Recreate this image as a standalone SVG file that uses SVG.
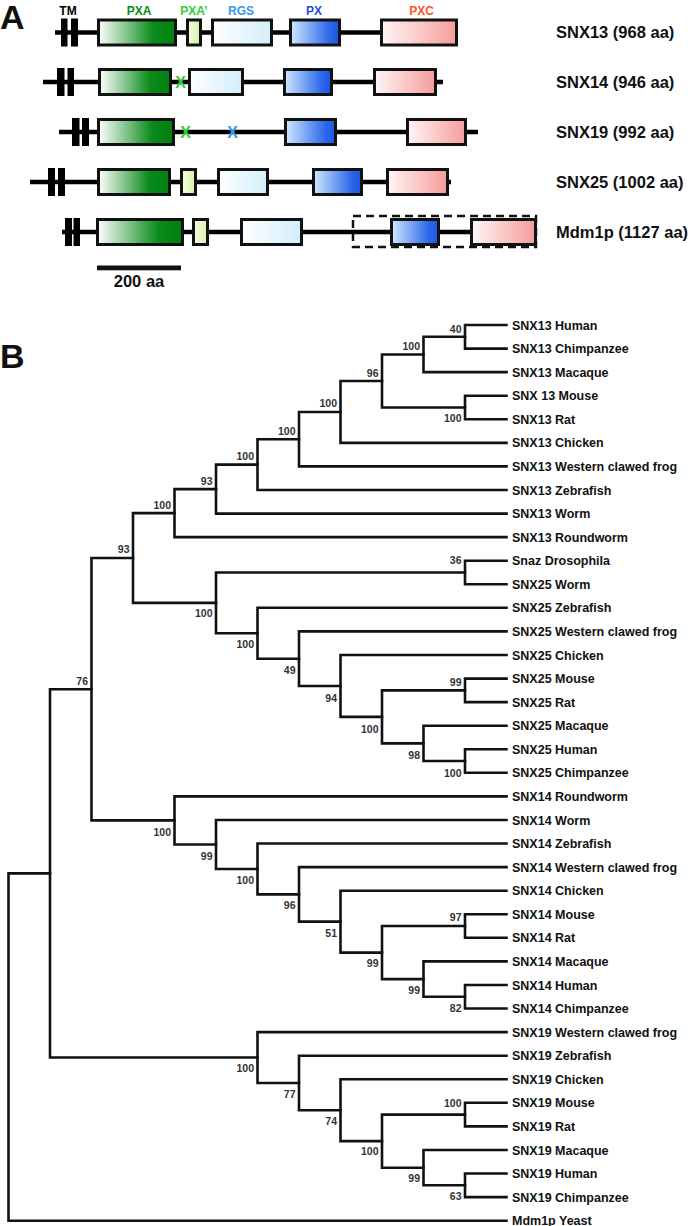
<svg xmlns="http://www.w3.org/2000/svg" width="693" height="1226" viewBox="0 0 693 1226">
<defs>
<linearGradient id="gPXA" x1="0" y1="0" x2="1" y2="0"><stop offset="0" stop-color="#ffffff"/><stop offset="0.72" stop-color="#0a8a1a"/><stop offset="1" stop-color="#00800f"/></linearGradient>
<linearGradient id="gPXA2" x1="0" y1="0" x2="1" y2="0"><stop offset="0" stop-color="#f6fde4"/><stop offset="1" stop-color="#d4efa6"/></linearGradient>
<linearGradient id="gRGS" x1="0" y1="0" x2="1" y2="0"><stop offset="0" stop-color="#ffffff"/><stop offset="1" stop-color="#d2eefb"/></linearGradient>
<linearGradient id="gPX" x1="0" y1="0" x2="1" y2="0"><stop offset="0" stop-color="#d2e8ff"/><stop offset="0.8" stop-color="#2a68ea"/><stop offset="1" stop-color="#1a56e0"/></linearGradient>
<linearGradient id="gPXC" x1="0" y1="0" x2="1" y2="0"><stop offset="0" stop-color="#fff6f6"/><stop offset="1" stop-color="#f59c9a"/></linearGradient>
</defs>
<style>
.bb{stroke:#000;stroke-width:4.5;fill:none}
.tm{fill:#000}
.box{stroke:#111;stroke-width:3}
.pxa{fill:url(#gPXA)}
.pxa2{fill:url(#gPXA2)}
.rgs{fill:url(#gRGS)}
.px{fill:url(#gPX)}
.pxc{fill:url(#gPXC)}
.dom{font-family:"Liberation Sans",Arial,sans-serif;font-weight:bold;font-size:12px;text-anchor:middle}
.name{font-family:"Liberation Sans",Arial,sans-serif;font-weight:bold;font-size:16.5px;fill:#111}
.big{font-family:"Liberation Sans",Arial,sans-serif;font-weight:bold;font-size:34px;fill:#111}
.xm{font-family:"Liberation Sans",Arial,sans-serif;font-weight:bold;font-size:16px;text-anchor:middle}
.br{fill:none;stroke:#111;stroke-width:2.6;stroke-linecap:square}
.leaf{font-family:"Liberation Sans",Arial,sans-serif;font-weight:bold;font-size:12.5px;fill:#111}
.bs{font-family:"Liberation Sans",Arial,sans-serif;font-weight:bold;font-size:10.5px;fill:#333;text-anchor:end}
</style>

<text class="big" x="0" y="29">A</text>
<g id="domain-labels">
<text class="dom" x="68" y="15" fill="#000">TM</text>
<text class="dom" x="139" y="15" fill="#0a8a1a">PXA</text>
<text class="dom" x="194" y="15" fill="#33cc33">PXA’</text>
<text class="dom" x="241" y="15" fill="#3399ee">RGS</text>
<text class="dom" x="314" y="15" fill="#1a4fe0">PX</text>
<text class="dom" x="421.5" y="15" fill="#ff5522">PXC</text>
</g>

<g id="snx13-protein">
<line class="bb" x1="55" y1="32.5" x2="458" y2="32.5"/>
<rect class="tm" x="61" y="18.5" width="6.5" height="28"/>
<rect class="tm" x="71" y="18.5" width="7" height="28"/>
<rect class="box pxa" x="98.5" y="20" width="77" height="25"/>
<rect class="box pxa2" x="187.5" y="20" width="13" height="25"/>
<rect class="box rgs" x="212.5" y="20" width="59" height="25"/>
<rect class="box px" x="290.5" y="20" width="49" height="25"/>
<rect class="box pxc" x="381.5" y="20" width="75" height="25"/>
<text class="name" x="556" y="38">SNX13 (968 aa)</text>
</g>

<g id="snx14-protein">
<line class="bb" x1="43" y1="82" x2="443" y2="82"/>
<rect class="tm" x="57" y="68" width="7.5" height="28"/>
<rect class="tm" x="67.5" y="68" width="6.5" height="28"/>
<rect class="box pxa" x="99.5" y="69.5" width="71" height="25"/>
<text class="xm" x="180.5" y="88" fill="#33cc33">X</text>
<rect class="box rgs" x="189.5" y="69.5" width="53" height="25"/>
<rect class="box px" x="284.5" y="69.5" width="47" height="25"/>
<rect class="box pxc" x="374.5" y="69.5" width="61" height="25"/>
<text class="name" x="556" y="88">SNX14 (946 aa)</text>
</g>

<g id="snx19-protein">
<line class="bb" x1="59" y1="132" x2="478" y2="132"/>
<rect class="tm" x="72" y="118" width="7.5" height="28"/>
<rect class="tm" x="82" y="118" width="7" height="28"/>
<rect class="box pxa" x="98.5" y="119.5" width="75" height="25"/>
<text class="xm" x="185.5" y="138" fill="#33cc33">X</text>
<text class="xm" x="232.5" y="138" fill="#3399ee">X</text>
<rect class="box px" x="285.5" y="119.5" width="50" height="25"/>
<rect class="box pxc" x="407.5" y="119.5" width="58" height="25"/>
<text class="name" x="556" y="138">SNX19 (992 aa)</text>
</g>

<g id="snx25-protein">
<line class="bb" x1="30" y1="182" x2="451" y2="182"/>
<rect class="tm" x="48" y="168" width="7" height="28"/>
<rect class="tm" x="58" y="168" width="7" height="28"/>
<rect class="box pxa" x="98.5" y="169.5" width="71" height="25"/>
<rect class="box pxa2" x="181.5" y="169.5" width="14" height="25"/>
<rect class="box rgs" x="218.5" y="169.5" width="49" height="25"/>
<rect class="box px" x="313.5" y="169.5" width="48" height="25"/>
<rect class="box pxc" x="387.5" y="169.5" width="60" height="25"/>
<text class="name" x="556" y="188">SNX25 (1002 aa)</text>
</g>

<g id="mdm1p-protein">
<line class="bb" x1="62" y1="232" x2="537" y2="232"/>
<rect class="tm" x="65" y="218" width="7" height="28"/>
<rect class="tm" x="73.5" y="218" width="6.5" height="28"/>
<rect class="box pxa" x="97.5" y="219.5" width="85" height="25"/>
<rect class="box pxa2" x="193.5" y="219.5" width="14" height="25"/>
<rect class="box rgs" x="241.5" y="219.5" width="60" height="25"/>
<rect x="353" y="216" width="183" height="31" fill="none" stroke="#111" stroke-width="2.5" stroke-dasharray="8 5"/>
<rect class="box px" x="391.5" y="219.5" width="47" height="25"/>
<rect class="box pxc" x="471.5" y="219.5" width="64" height="25"/>
<text class="name" x="556" y="238">Mdm1p (1127 aa)</text>
</g>

<g id="scale-bar">
<rect x="97" y="265.5" width="84" height="4.8" fill="#111"/>
<text class="name" x="139" y="287" text-anchor="middle">200 aa</text>
</g>

<text class="big" x="0" y="368">B</text>

<g id="connectors">
<path class="br" d="M50,873.4 H8.5 V1220.7 H506.5"/>
<path class="br" d="M91.5,689.2 H50 V1057.5 H257.5"/>
<path class="br" d="M133,558 H91.5 V820.4 H174.5"/>
<path class="br" d="M174.5,513.1 H133 V602.9 H216"/>
<path class="br" d="M216,489.1 H174.5 V537.1 H506.5"/>
<path class="br" d="M257.5,464.6 H216 V513.6 H506.5"/>
<path class="br" d="M299,439.2 H257.5 V490 H506.5"/>
<path class="br" d="M340.5,412 H299 V466.4 H506.5"/>
<path class="br" d="M382,381 H340.5 V442.9 H506.5"/>
<path class="br" d="M423.5,354.5 H382 V407.5 H465"/>
<path class="br" d="M465,336.8 H423.5 V372.1 H506.5"/>
<path class="br" d="M506.5,325 H465 V348.6 H506.5"/>
<path class="br" d="M506.5,395.7 H465 V419.3 H506.5"/>
<path class="br" d="M465,572.5 H216 V633.3 H257.5"/>
<path class="br" d="M506.5,560.7 H465 V584.3 H506.5"/>
<path class="br" d="M506.5,607.8 H257.5 V658.7 H299"/>
<path class="br" d="M506.5,631.4 H299 V686 H340.5"/>
<path class="br" d="M506.5,655 H340.5 V716.9 H382"/>
<path class="br" d="M465,690.4 H382 V743.4 H423.5"/>
<path class="br" d="M506.5,678.6 H465 V702.1 H506.5"/>
<path class="br" d="M506.5,725.7 H423.5 V761 H465"/>
<path class="br" d="M506.5,749.3 H465 V772.8 H506.5"/>
<path class="br" d="M506.5,796.4 H174.5 V844.5 H216"/>
<path class="br" d="M506.5,820 H216 V869 H257.5"/>
<path class="br" d="M506.5,843.5 H257.5 V894.4 H299"/>
<path class="br" d="M506.5,867.1 H299 V921.6 H340.5"/>
<path class="br" d="M506.5,890.7 H340.5 V952.6 H382"/>
<path class="br" d="M465,926 H382 V979.1 H423.5"/>
<path class="br" d="M506.5,914.3 H465 V937.8 H506.5"/>
<path class="br" d="M506.5,961.4 H423.5 V996.8 H465"/>
<path class="br" d="M506.5,985 H465 V1008.5 H506.5"/>
<path class="br" d="M506.5,1032.1 H257.5 V1083 H299"/>
<path class="br" d="M506.5,1055.7 H299 V1110.2 H340.5"/>
<path class="br" d="M506.5,1079.2 H340.5 V1141.1 H382"/>
<path class="br" d="M465,1114.6 H382 V1167.7 H423.5"/>
<path class="br" d="M506.5,1102.8 H465 V1126.4 H506.5"/>
<path class="br" d="M506.5,1150 H423.5 V1185.3 H465"/>
<path class="br" d="M506.5,1173.5 H465 V1197.1 H506.5"/>
</g>

<g id="bootstrap-nodes">
<g id="n40"><text class="bs" x="461.5" y="333">40</text></g>
<g id="n100a"><text class="bs" x="420" y="350">100</text></g>
<g id="n96"><text class="bs" x="378.5" y="377">96</text></g>
<g id="n100b"><text class="bs" x="461.5" y="421.7">100</text></g>
<g id="n100c"><text class="bs" x="337" y="407.3">100</text></g>
<g id="n100d"><text class="bs" x="295.5" y="435">100</text></g>
<g id="n100e"><text class="bs" x="254" y="460">100</text></g>
<g id="n93a"><text class="bs" x="212.5" y="485">93</text></g>
<g id="n100f"><text class="bs" x="171" y="509.3">100</text></g>
<g id="n93b"><text class="bs" x="129.5" y="553.3">93</text></g>
<g id="n36"><text class="bs" x="461.5" y="564">36</text></g>
<g id="n100j"><text class="bs" x="212.5" y="617.3">100</text></g>
<g id="n100i"><text class="bs" x="254" y="648.3">100</text></g>
<g id="n49"><text class="bs" x="295.5" y="674">49</text></g>
<g id="n94"><text class="bs" x="337" y="701.7">94</text></g>
<g id="n76"><text class="bs" x="88" y="685">76</text></g>
<g id="n99"><text class="bs" x="461.5" y="686">99</text></g>
<g id="n100h"><text class="bs" x="378.5" y="732.7">100</text></g>
<g id="n98"><text class="bs" x="420" y="759.3">98</text></g>
<g id="n100g"><text class="bs" x="461.5" y="776.7">100</text></g>
<g id="n100l"><text class="bs" x="171" y="835.7">100</text></g>
<g id="n99c"><text class="bs" x="212.5" y="860">99</text></g>
<g id="n100k"><text class="bs" x="254" y="884">100</text></g>
<g id="n96b"><text class="bs" x="295.5" y="909.3">96</text></g>
<g id="n51"><text class="bs" x="337" y="936.7">51</text></g>
<g id="n97"><text class="bs" x="461.5" y="920.7">97</text></g>
<g id="n99a"><text class="bs" x="378.5" y="966.7">99</text></g>
<g id="n99b"><text class="bs" x="420" y="994">99</text></g>
<g id="n82"><text class="bs" x="461.5" y="1011.7">82</text></g>
<g id="n100o"><text class="bs" x="254" y="1072.3">100</text></g>
<g id="n77"><text class="bs" x="295.5" y="1097.7">77</text></g>
<g id="n74"><text class="bs" x="337" y="1125">74</text></g>
<g id="n100m"><text class="bs" x="461.5" y="1107.3">100</text></g>
<g id="n100n"><text class="bs" x="378.5" y="1155">100</text></g>
<g id="n99d"><text class="bs" x="420" y="1181.7">99</text></g>
<g id="n63"><text class="bs" x="461.5" y="1200">63</text></g>
</g>

<g id="leaves">
<g id="l0"><text class="leaf" x="512" y="329.5">SNX13 Human</text></g>
<g id="l1"><text class="leaf" x="512" y="353.1">SNX13 Chimpanzee</text></g>
<g id="l2"><text class="leaf" x="512" y="376.6">SNX13 Macaque</text></g>
<g id="l3"><text class="leaf" x="512" y="400.2">SNX 13 Mouse</text></g>
<g id="l4"><text class="leaf" x="512" y="423.8">SNX13 Rat</text></g>
<g id="l5"><text class="leaf" x="512" y="447.4">SNX13 Chicken</text></g>
<g id="l6"><text class="leaf" x="512" y="470.9">SNX13 Western clawed frog</text></g>
<g id="l7"><text class="leaf" x="512" y="494.5">SNX13 Zebrafish</text></g>
<g id="l8"><text class="leaf" x="512" y="518.1">SNX13 Worm</text></g>
<g id="l9"><text class="leaf" x="512" y="541.6">SNX13 Roundworm</text></g>
<g id="l10"><text class="leaf" x="512" y="565.2">Snaz Drosophila</text></g>
<g id="l11"><text class="leaf" x="512" y="588.8">SNX25 Worm</text></g>
<g id="l12"><text class="leaf" x="512" y="612.3">SNX25 Zebrafish</text></g>
<g id="l13"><text class="leaf" x="512" y="635.9">SNX25 Western clawed frog</text></g>
<g id="l14"><text class="leaf" x="512" y="659.5">SNX25 Chicken</text></g>
<g id="l15"><text class="leaf" x="512" y="683.1">SNX25 Mouse</text></g>
<g id="l16"><text class="leaf" x="512" y="706.6">SNX25 Rat</text></g>
<g id="l17"><text class="leaf" x="512" y="730.2">SNX25 Macaque</text></g>
<g id="l18"><text class="leaf" x="512" y="753.8">SNX25 Human</text></g>
<g id="l19"><text class="leaf" x="512" y="777.3">SNX25 Chimpanzee</text></g>
<g id="l20"><text class="leaf" x="512" y="800.9">SNX14 Roundworm</text></g>
<g id="l21"><text class="leaf" x="512" y="824.5">SNX14 Worm</text></g>
<g id="l22"><text class="leaf" x="512" y="848">SNX14 Zebrafish</text></g>
<g id="l23"><text class="leaf" x="512" y="871.6">SNX14 Western clawed frog</text></g>
<g id="l24"><text class="leaf" x="512" y="895.2">SNX14 Chicken</text></g>
<g id="l25"><text class="leaf" x="512" y="918.8">SNX14 Mouse</text></g>
<g id="l26"><text class="leaf" x="512" y="942.3">SNX14 Rat</text></g>
<g id="l27"><text class="leaf" x="512" y="965.9">SNX14 Macaque</text></g>
<g id="l28"><text class="leaf" x="512" y="989.5">SNX14 Human</text></g>
<g id="l29"><text class="leaf" x="512" y="1013">SNX14 Chimpanzee</text></g>
<g id="l30"><text class="leaf" x="512" y="1036.6">SNX19 Western clawed frog</text></g>
<g id="l31"><text class="leaf" x="512" y="1060.2">SNX19 Zebrafish</text></g>
<g id="l32"><text class="leaf" x="512" y="1083.7">SNX19 Chicken</text></g>
<g id="l33"><text class="leaf" x="512" y="1107.3">SNX19 Mouse</text></g>
<g id="l34"><text class="leaf" x="512" y="1130.9">SNX19 Rat</text></g>
<g id="l35"><text class="leaf" x="512" y="1154.5">SNX19 Macaque</text></g>
<g id="l36"><text class="leaf" x="512" y="1178">SNX19 Human</text></g>
<g id="l37"><text class="leaf" x="512" y="1201.6">SNX19 Chimpanzee</text></g>
<g id="l38"><text class="leaf" x="512" y="1225.2">Mdm1p Yeast</text></g>
</g>
</svg>
